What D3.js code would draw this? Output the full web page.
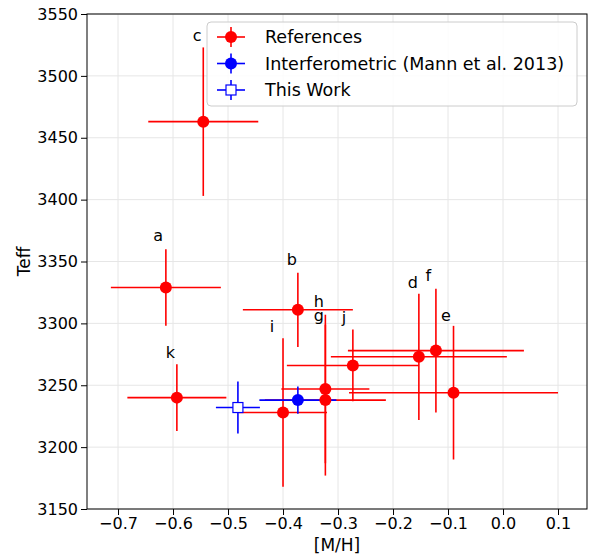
<!DOCTYPE html>
<html><head><meta charset="UTF-8">
<script src="https://d3js.org/d3.v7.min.js"></script>
<style>body{margin:0;background:#fff;font-family:"DejaVu Sans",sans-serif}text{font-family:"DejaVu Sans",sans-serif}</style>
</head><body><div id="chart"></div>
<script>
// References
const refLabels = ["c","a","b","h","g","i","j","d","f","e","k"];
const refMH     = [-0.545,-0.613,-0.373,-0.323,-0.323,-0.40,-0.273,-0.153,-0.122,-0.09,-0.593];
const refMHerr  = [0.10,0.10,0.10,0.08,0.11,0.08,0.12,0.16,0.16,0.19,0.09];
const refTeff   = [3463,3329,3311,3247,3238,3228,3266,3273,3278,3244,3240];
const refTeffErr= [60,31,30,60,61,60,29,51,50,54,27];
const labelX    = [-0.556,-0.627,-0.384,-0.335,-0.335,-0.42,-0.289,-0.164,-0.136,-0.104,-0.605];
const labelY    = [3532,3371,3351,3317,3306,3297,3304,3333,3338,3306,3276];
// Interferometric (Mann et al. 2013)
const intMH=[-0.373], intMHerr=[0.07], intTeff=[3238], intTeffErr=[11];
// This work
const twMH=[-0.482], twMHerr=[0.04], twTeff=[3232], twTeffErr=[21];
const xTicks=[-0.7,-0.6,-0.5,-0.4,-0.3,-0.2,-0.1,0.0,0.1];
const yTicks=[3150,3200,3250,3300,3350,3400,3450,3500,3550];

const W=590,H=556,m={l:87,r:3,t:14,b:47};
const svg=d3.select("#chart").append("svg").attr("width",W).attr("height",H);
const x=d3.scaleLinear().domain([-0.7564,0.1527]).range([m.l,W-m.r]);
const y=d3.scaleLinear().domain([3150,3550]).range([H-m.b,m.t]);

// grid
svg.append("g").selectAll("line").data(xTicks).join("line")
  .attr("x1",d=>x(d)).attr("x2",d=>x(d)).attr("y1",m.t).attr("y2",H-m.b).attr("stroke","#e6e6e6");
svg.append("g").selectAll("line").data(yTicks).join("line")
  .attr("x1",m.l).attr("x2",W-m.r).attr("y1",d=>y(d)).attr("y2",d=>y(d)).attr("stroke","#e6e6e6");

const xa=svg.append("g").attr("transform",`translate(0,${H-m.b})`)
  .call(d3.axisBottom(x).tickValues(xTicks).tickFormat(d=>d.toFixed(1).replace("-","\u2212")).tickSizeOuter(0));
const ya=svg.append("g").attr("transform",`translate(${m.l},0)`)
  .call(d3.axisLeft(y).tickValues(yTicks).tickFormat(d3.format("d")).tickSizeOuter(0));
[xa,ya].forEach(a=>{a.selectAll("text").attr("font-size",16).attr("fill","#000");a.select(".domain").remove();a.selectAll("line").attr("stroke","#000");});
svg.append("rect").attr("x",m.l).attr("y",m.t).attr("width",W-m.l-m.r).attr("height",H-m.t-m.b)
  .attr("fill","none").attr("stroke","#000");
svg.append("text").attr("x",(m.l+W-m.r)/2).attr("y",H-5).attr("text-anchor","middle").attr("font-size",17).text("[M/H]");
svg.append("text").attr("transform",`translate(30,${(m.t+H-m.b)/2}) rotate(-90)`).attr("text-anchor","middle").attr("font-size",17).text("Teff");

function errs(xs,xe,ys,ye,col){
  const g=svg.append("g").attr("stroke",col).attr("stroke-width",1.6);
  xs.forEach((v,i)=>{
    g.append("line").attr("x1",x(v-xe[i])).attr("x2",x(v+xe[i])).attr("y1",y(ys[i])).attr("y2",y(ys[i]));
    g.append("line").attr("x1",x(v)).attr("x2",x(v)).attr("y1",y(ys[i]-ye[i])).attr("y2",y(ys[i]+ye[i]));
  });
}
errs(refMH,refMHerr,refTeff,refTeffErr,"red");
errs(intMH,intMHerr,intTeff,intTeffErr,"blue");
errs(twMH,twMHerr,twTeff,twTeffErr,"blue");
svg.append("g").selectAll("circle").data(refMH).join("circle")
  .attr("cx",d=>x(d)).attr("cy",(d,i)=>y(refTeff[i])).attr("r",6).attr("fill","red");
svg.append("g").selectAll("circle").data(intMH).join("circle")
  .attr("cx",d=>x(d)).attr("cy",(d,i)=>y(intTeff[i])).attr("r",6).attr("fill","blue");
svg.append("g").selectAll("rect").data(twMH).join("rect")
  .attr("x",d=>x(d)-5).attr("y",(d,i)=>y(twTeff[i])-5).attr("width",10).attr("height",10)
  .attr("fill","#fff").attr("stroke","blue").attr("stroke-width",1.2);
svg.append("g").selectAll("text").data(refLabels).join("text")
  .attr("x",(d,i)=>x(labelX[i])).attr("y",(d,i)=>y(labelY[i])+5).attr("text-anchor","middle")
  .attr("font-size",16).text(d=>d);

// legend
const lg=svg.append("g").attr("transform","translate(207,22)");
lg.append("rect").attr("width",370).attr("height",84).attr("rx",4).attr("fill","#fff").attr("fill-opacity",0.85).attr("stroke","#ccc");
[["References","red","circle"],["Interferometric (Mann et al. 2013)","blue","circle"],["This Work","blue","square"]].forEach((e,i)=>{
  const cy=15+i*26.5, g=lg.append("g").attr("stroke",e[1]).attr("stroke-width",1.6);
  g.append("line").attr("x1",10).attr("x2",38).attr("y1",cy).attr("y2",cy);
  g.append("line").attr("x1",24).attr("x2",24).attr("y1",cy-10).attr("y2",cy+10);
  if(e[2]=="circle") lg.append("circle").attr("cx",24).attr("cy",cy).attr("r",6).attr("fill",e[1]);
  else lg.append("rect").attr("x",19).attr("y",cy-5).attr("width",10).attr("height",10).attr("fill","#fff").attr("stroke",e[1]).attr("stroke-width",1.2);
  lg.append("text").attr("x",58).attr("y",cy+6).attr("font-size",17.5).text(e[0]);
});
</script></body></html>
